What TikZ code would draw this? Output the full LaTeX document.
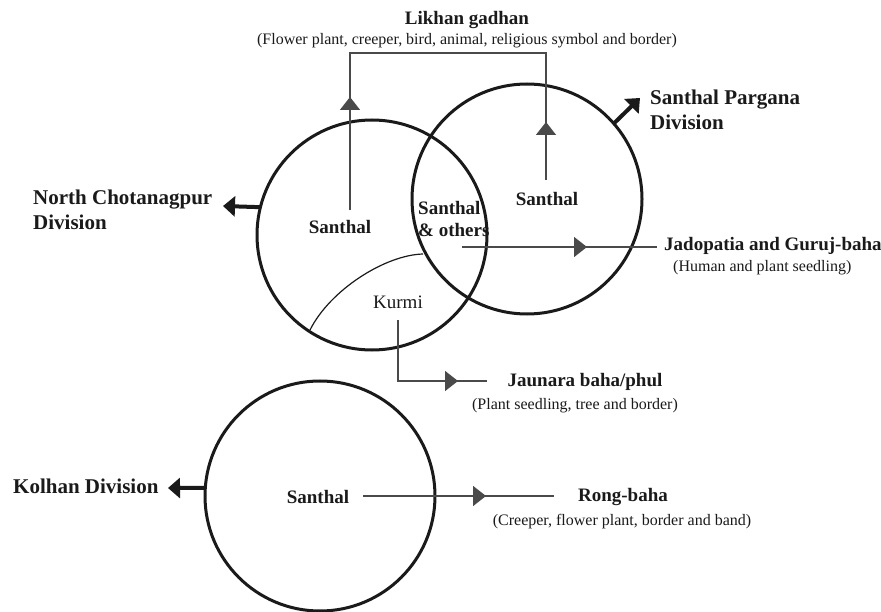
\documentclass[tikz,border=0pt]{standalone}
\usepackage{fontspec}
\setmainfont{Liberation Serif}
\usetikzlibrary{arrows.meta,decorations.markings}

\definecolor{ink}{HTML}{1A1A1A}
\definecolor{flowgray}{HTML}{4A4A4A}

\tikzset{
  region/.style={circle,draw=ink,line width=3pt,minimum size=230pt,inner sep=0pt,outer sep=0pt},
  head/.style={font=\bfseries\fontsize{21}{25}\selectfont,text=ink,align=left,inner sep=0pt},
  lbl/.style={font=\bfseries\fontsize{19}{22}\selectfont,text=ink,align=left,inner sep=0pt},
  sub/.style={font=\fontsize{16}{19}\selectfont,text=ink,inner sep=0pt},
  division/.style={-{Triangle[length=12pt,width=20pt]},line width=4pt,ink},
  flow/.style={flowgray,line width=1.5pt},
  midtip/.style={flow,postaction={decorate},
    decoration={markings,mark=at position #1 with {\arrow{Triangle[length=13pt,width=20pt]}}}}
}

\begin{document}
\begin{tikzpicture}[x=1pt,y=-1pt]
\useasboundingbox[fill=white] (0,0) rectangle (881,612);

% the three divisions
\node[region] (cNC) at (372,235) {};
\node[region] (cSP) at (527,199) {};
\node[region] (cKo) at (320,496) {};

% Kurmi part of the left circle
\coordinate (kmA) at (310,330);
\coordinate (kmB) at (423,254);
\draw[ink,line width=1.2pt] (kmA) .. controls (330,290) and (385,255) .. (kmB);

% division names
\node[head,anchor=west] (tNC) at (33,209.5) {North Chotanagpur\\Division};
\node[head,anchor=west] (tSP) at (650,109.5) {Santhal Pargana\\Division};
\node[head,anchor=west] (tKo) at (13,486) {Kolhan Division};

\coordinate (aNC) at (223,206);
\coordinate (aSP) at (640,98);
\coordinate (aKo) at (168,488);
\draw[division] (cNC.166) -- (aNC);
\draw[division] (cSP.41.5) -- (aSP);
\draw[division] (cKo.176) -- (aKo);

% groups inside the circles
\node[lbl] (sNC) at (340,227) {Santhal};
\node[lbl,anchor=west] (sMix) at (418,219) {Santhal\\\& others};
\node[lbl] (sSP) at (547,199) {Santhal};
\node[font=\fontsize{19}{22}\selectfont,text=ink,inner sep=0pt] (kurmi) at (398,302) {Kurmi};
\node[lbl] (sKo) at (318,497) {Santhal};

% art forms
\node[lbl] (likhan) at (467,20) {Likhan gadhan};
\node[sub] (likhanS) at (467,41) {(Flower plant, creeper, bird, animal, religious symbol and border)};
\node[lbl,anchor=west] (jado) at (664,246) {Jadopatia and Guruj-baha};
\node[sub,anchor=west] (jadoS) at (673,268) {(Human and plant seedling)};
\node[lbl] (jaun) at (585,382) {Jaunara baha/phul};
\node[sub] (jaunS) at (575,406) {(Plant seedling, tree and border)};
\node[lbl] (rong) at (623,497) {Rong-baha};
\node[sub] (rongS) at (622,522) {(Creeper, flower plant, border and band)};

% connectors
\coordinate (lkL) at (350,210);
\coordinate (lkR) at (546,180);
\coordinate (lkM) at (448,53);
\draw[midtip=113pt] (lkL) |- (lkM);
\draw[midtip=58pt] (lkR) |- (lkM);

\coordinate (jdS) at (462,247);
\coordinate (jdE) at (657,247);
\draw[midtip=125pt] (jdS) -- (jdE);

\coordinate (kuS) at (398,320);
\coordinate (kuE) at (487,381);
\draw[midtip=121pt] (kuS) |- (kuE);

\coordinate (rgS) at (363,496);
\coordinate (rgE) at (554,496);
\draw[midtip=123pt] (rgS) -- (rgE);
\end{tikzpicture}
\end{document}
